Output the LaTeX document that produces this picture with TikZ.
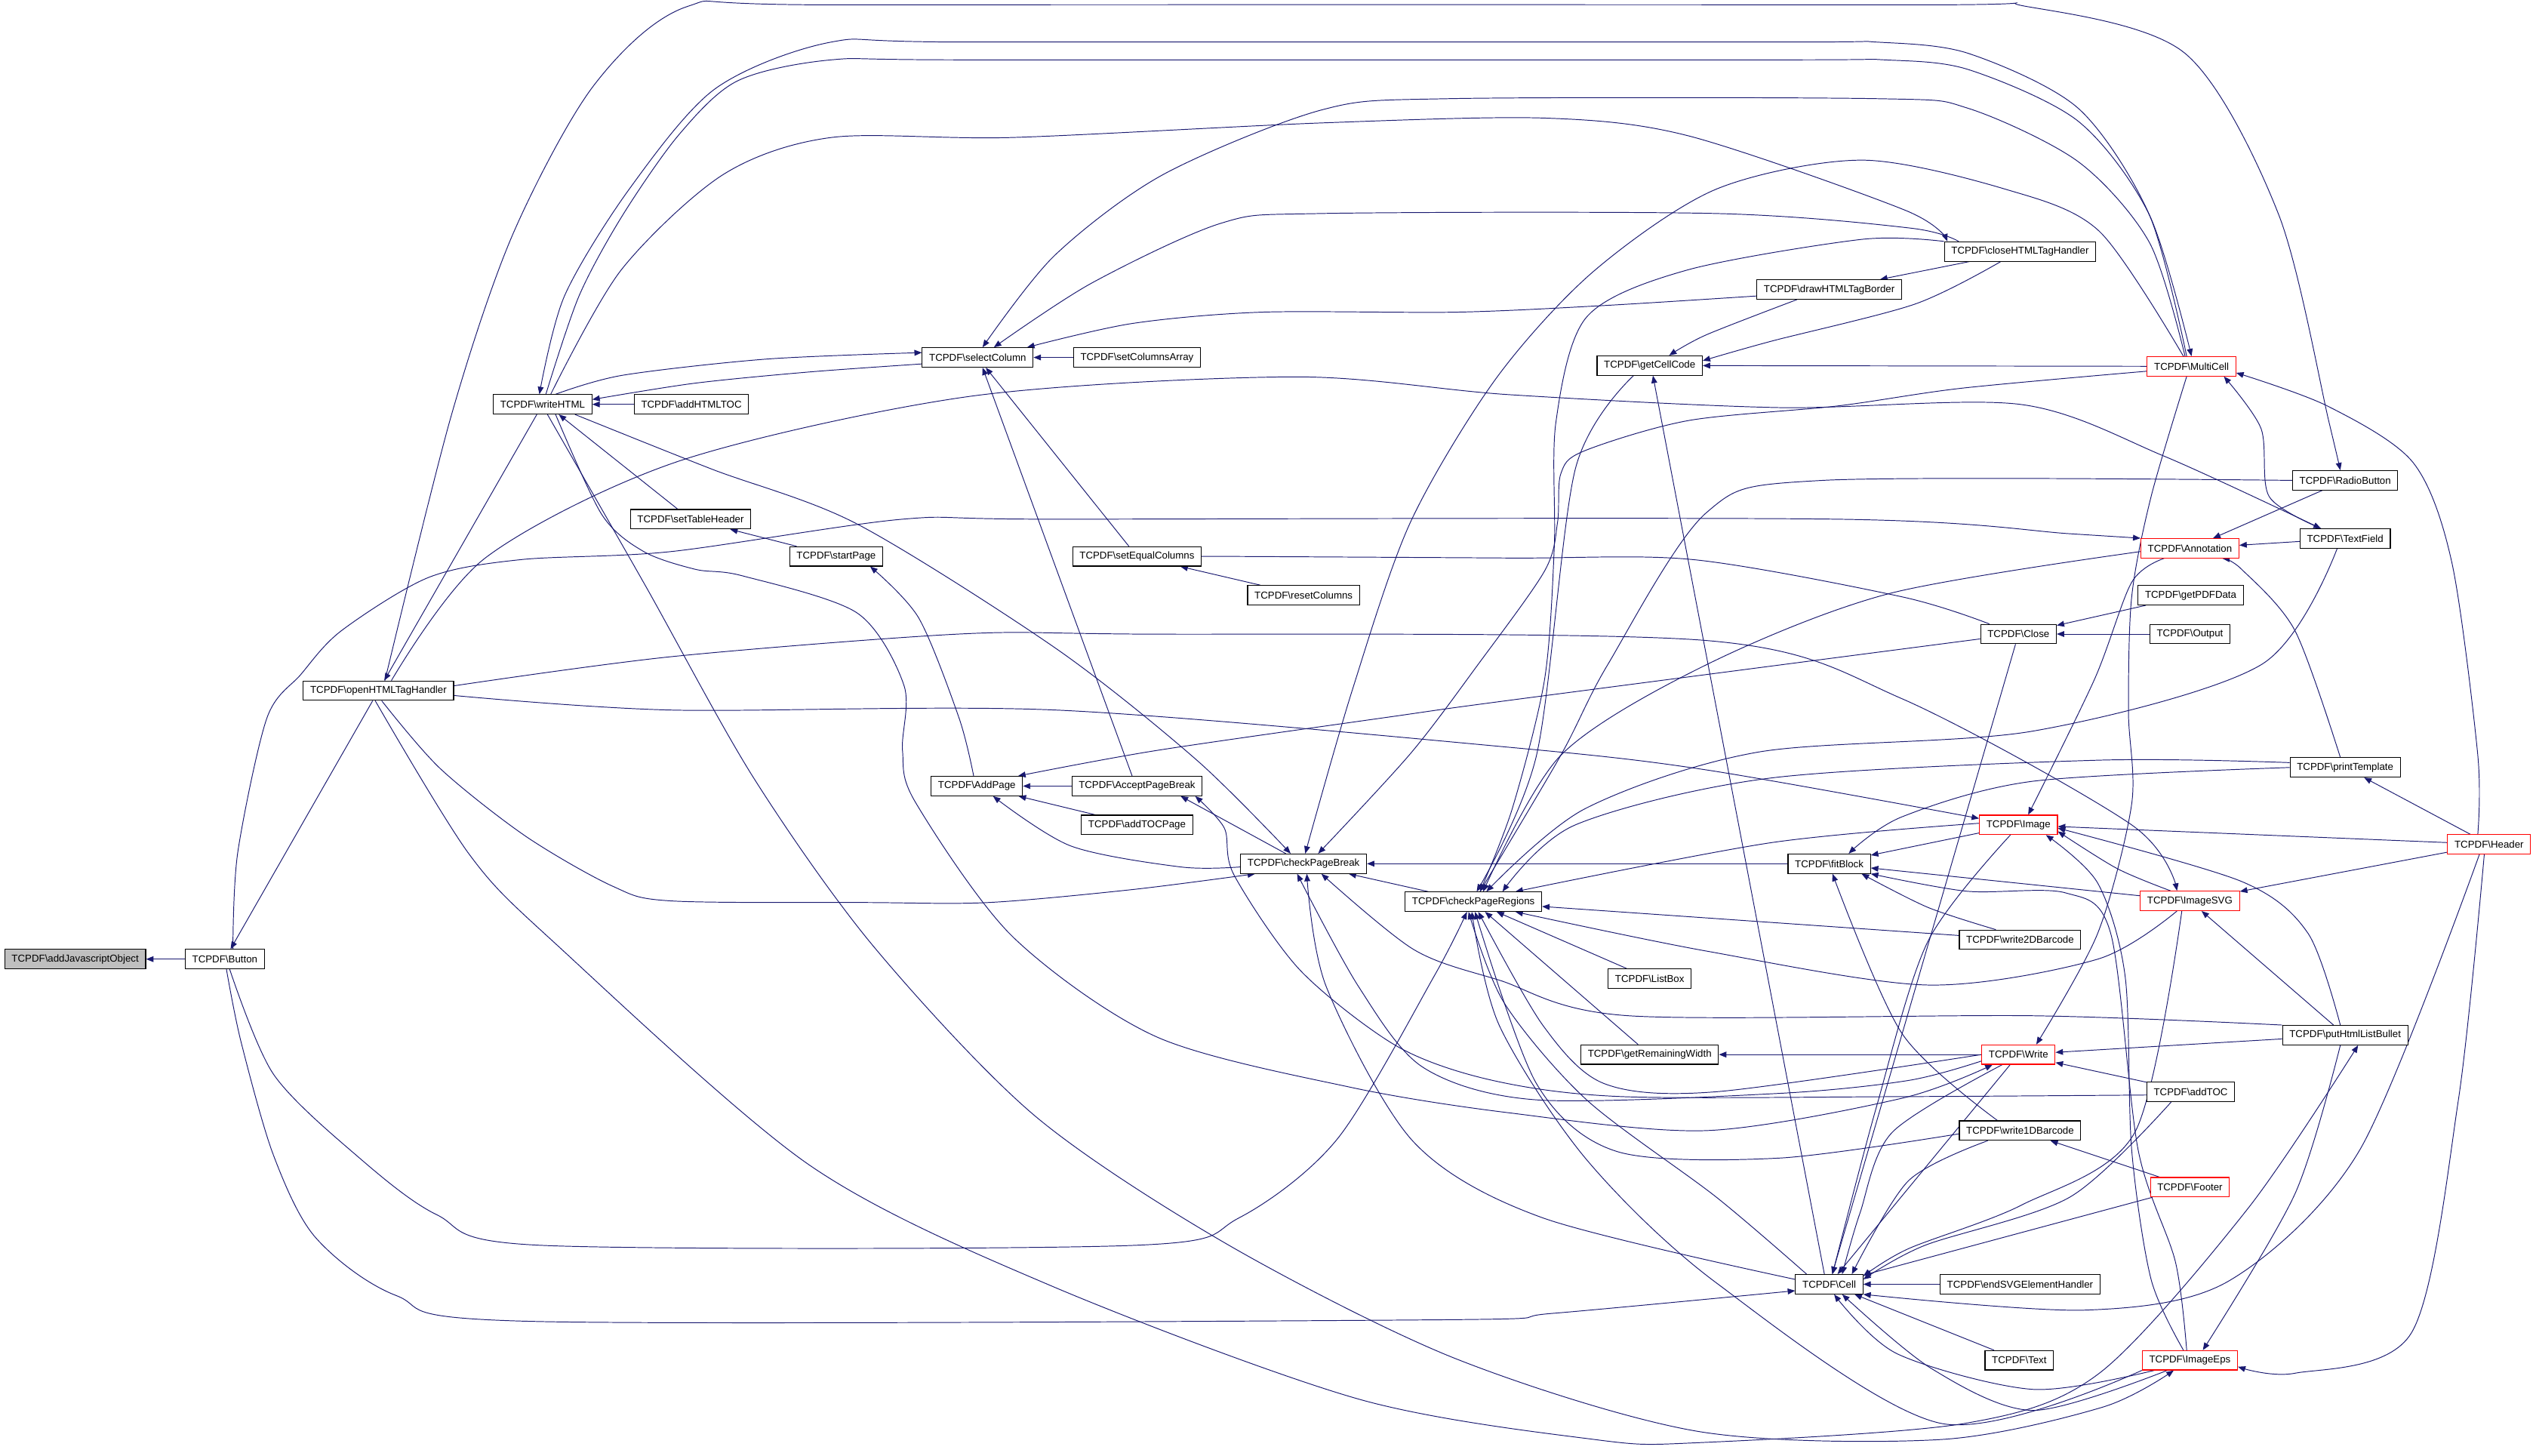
\documentclass[tikz,border=0pt]{standalone}
\usepackage{fontspec}
\setmainfont{Liberation Sans}
\usetikzlibrary{arrows.meta}
\definecolor{edgeblue}{RGB}{25,25,112}
\pgfdeclarelayer{bg}
\pgfsetlayers{bg,main}

\begin{document}
\begin{tikzpicture}[x=1pt,y=-1pt,>={Triangle[length=4.6pt,width=3.6pt]},
  fn/.style={draw=black,line width=0.5pt,fill=white,inner xsep=4.3pt,inner ysep=0pt,
    minimum height=12pt,font=\fontsize{6.2}{7}\selectfont},
  fnred/.style={fn,draw=red},
  fnroot/.style={fn,fill=black!25},
  edge/.style={->,edgeblue,line width=0.45pt}]
  \useasboundingbox (0,0) rectangle (1568,900);

  % functions
  \node[fnroot] (addJS) at (46.5,593) {TCPDF\textbackslash addJavascriptObject};
  \foreach \n/\x/\y/\lbl in {button/139/593/Button, openTag/234/427/openHTMLTagHandler,
      writeHTML/335.5/250/writeHTML, addHTMLTOC/427.5/250/addHTMLTOC,
      setTableHeader/427/321/setTableHeader, startPage/517/344/startPage,
      selectColumn/604.5/221/selectColumn, setColumnsArray/703/221/setColumnsArray,
      setEqualColumns/703/344/setEqualColumns, resetColumns/806/368/resetColumns,
      addPage/604/486/AddPage, acceptPB/703/486/AcceptPageBreak, addTOCPage/703/510/addTOCPage,
      checkPB/806/534/checkPageBreak, checkPR/911/557.5/checkPageRegions,
      getCellCode/1020/226/getCellCode, drawBorder/1131/179/drawHTMLTagBorder,
      closeTag/1249/155.5/closeHTMLTagHandler, radioButton/1450/297/RadioButton,
      textField/1450/333/TextField, getPDFData/1354.5/368/getPDFData, close/1248/392/Close,
      output/1354/392/Output, printTemplate/1450/474.5/printTemplate, fitBlock/1131/534/fitBlock,
      write2D/1249/581/write2DBarcode, listBox/1020/605/ListBox,
      getRemWidth/1020/652/getRemainingWidth, putBullet/1450/640/putHtmlListBullet,
      addTOC/1354.5/675/addTOC, write1D/1249/699/write1DBarcode, cell/1131/794/Cell,
      endSVG/1249/794/endSVGElementHandler, text/1248.5/841/Text}
    \node[fn] (\n) at (\x,\y) {TCPDF\textbackslash\lbl};
  \foreach \n/\x/\y/\lbl in {multiCell/1355/226.5/MultiCell, annotation/1354/339/Annotation,
      header/1539/522/Header, image/1248/510/Image, imageSVG/1354/557/ImageSVG,
      write/1248/652/Write, footer/1354/734/Footer, imageEps/1354/841/ImageEps}
    \node[fnred] (\n) at (\x,\y) {TCPDF\textbackslash\lbl};

  \begin{pgfonlayer}{bg}
  % short calls
  \foreach \a/\b in {button/addJS, openTag/button, writeHTML/openTag, addHTMLTOC/writeHTML,
      startPage/setTableHeader, setColumnsArray/selectColumn, setEqualColumns/selectColumn,
      resetColumns/setEqualColumns, acceptPB/addPage, addTOCPage/addPage, checkPR/checkPB,
      fitBlock/checkPB, multiCell/getCellCode, closeTag/drawBorder, radioButton/annotation,
      textField/annotation, getPDFData/close, output/close, header/printTemplate, header/image,
      header/imageSVG, putBullet/imageSVG, putBullet/write, image/fitBlock, imageSVG/fitBlock,
      write2D/checkPR, listBox/checkPR, getRemWidth/checkPR, write/getRemWidth, addTOC/write,
      footer/write1D, footer/cell, endSVG/cell, text/cell, write/cell, close/cell}
    \draw[edge] (\a) -- (\b);
  \draw[edge] ([xshift=-8pt]setTableHeader.north) -- ([xshift=10pt]writeHTML.south);
  \draw[edge] ([xshift=-3pt]acceptPB.north) -- ([xshift=3pt]selectColumn.south);
  \draw[edge] ([xshift=-11pt]checkPB.north) -- ([xshift=27pt]acceptPB.south);
  \draw[edge] ([xshift=-3pt]cell.north) -- ([xshift=2pt]getCellCode.south);
  \draw[edge] plot[smooth] coordinates {([xshift=20pt]writeHTML.south) (440,290) (530,324) (653,401) (740,470) ([xshift=-8pt]checkPB.north)};

  % long routes over the top
  \draw[edge] plot[smooth] coordinates {([xshift=4pt]openTag.north) (279,257) (317,145) (367,53) (425,4) (520,3) (1180,3) (1253,4) (1351,33) (1409,133) (1440,261) ([xshift=-3pt]radioButton.north)};
  \draw[edge] plot[smooth] coordinates {([xshift=8pt]openTag.north) (300,345) (420,285) (600,245) (800,233) (933,244) (1100,252) (1249,250) (1338,282) ([xshift=-15pt]textField.north)};
  \draw[edge] plot[smooth] coordinates {([xshift=5pt]button.north) (147,527) (165,444) (186,417) (211,390) (265,357) (322,346) (415,341) (558,321) (653,321) (1136,321) (1280,330) (annotation.north west)};
  \draw[edge] plot[smooth] coordinates {([xshift=-3pt]multiCell.north) (1329,133) (1285,67) (1217,33) (1160,26) (1100,26) (600,26) (514,26) (442,55) (389,117) (349,183) ([xshift=-2pt]writeHTML.north)};
  \draw[edge] plot[smooth] coordinates {([xshift=2pt]writeHTML.north) (358,183) (385,133) (420,83) (456,50) (514,37) (600,37) (1100,37) (1165,37) (1217,43) (1285,75) (1329,133) (multiCell.north)};
  \draw[edge] plot[smooth] coordinates {([xshift=5pt]writeHTML.north) (384,167) (447,108) (514,85) (626,85) (817,76) (955,73) (1044,84) (1178,130) ([xshift=-45pt]closeTag.north)};
  \draw[edge] plot[smooth] coordinates {([xshift=-4pt]multiCell.north) (1329,150) (1285,100) (1217,67) (1160,61) (896,61) (817,68) (719,108) (652,158) ([xshift=3pt]selectColumn.north)};
  \draw[edge] plot[smooth] coordinates {([xshift=-38pt]closeTag.north) (1181,141) (1061,132) (817,132) (755,138) (675,175) ([xshift=10pt]selectColumn.north)};
  \draw[edge] plot[smooth] coordinates {([yshift=-4pt]drawBorder.west) (990,189) (900,193) (780,193) (700,200) ([xshift=-4pt]selectColumn.north east)};
  \draw[edge] plot[smooth] coordinates {([yshift=-4pt]selectColumn.west) (500,230) (429,237) ([yshift=3pt]writeHTML.east)};
  \draw[edge] plot[smooth] coordinates {([xshift=8pt]writeHTML.north) (385,232) (474,222) ([yshift=3pt]selectColumn.west)};

  % page handling
  \draw[edge] plot[smooth] coordinates {([xshift=-2pt]addPage.north) (593,444) (568,382) ([xshift=21pt]startPage.south)};
  \draw[edge] plot[smooth] coordinates {([yshift=-2pt]checkPB.west) (730,536) (662,523) ([xshift=10pt]addPage.south)};
  \draw[edge] plot[smooth] coordinates {([yshift=-3pt]close.west) (933,433) (861,443) (715,464) ([xshift=-3pt]addPage.north east)};
  \draw[edge] plot[smooth] coordinates {([yshift=-2pt]addTOC.west) (1176,678) (1003,678) (923,668) (864,647) (804,600) (763,541) (757,512) ([xshift=36pt]acceptPB.south)};
  \draw[edge] plot[smooth] coordinates {([xshift=-18pt]close.north) (1176,369) (1047,346) (933,345) (760,344) (setEqualColumns.east)};
  \draw[edge] plot[smooth] coordinates {([xshift=2pt]openTag.south) (272,475) (325,517) (379,548) (415,557) (537,558) (611,558) (700,550) ([xshift=-30pt]checkPB.south)};
  \draw[edge] plot[smooth] coordinates {([xshift=-5pt]multiCell.north) (1298,143) (1240,117) (1151,99) (1061,117) (985,168) (925,234) (872,323) (836,427) ([xshift=1pt]checkPB.north)};
  \draw[edge] plot[smooth] coordinates {([yshift=-3pt]multiCell.west) (1213,240) (1136,251) (1044,260) (979,279) (965,293) (963,323) (955,353) (913,412) (872,466) ([xshift=9pt]checkPB.north)};

  % into checkPageRegions
  \draw[edge] plot[smooth] coordinates {([xshift=3pt]button.south) (169,664) (220,714) (270,751) (336,770) (700,770) (766,753) (827,704) (887,603) ([xshift=-4pt]checkPR.south)};
  \draw[edge] plot[smooth] coordinates {(closeTag.north west) (1151,148) (1043,167) (981,196) (962,261) (961,338) (955,420) (935,500) ([xshift=4pt]checkPR.north)};
  \draw[edge] plot[smooth] coordinates {([xshift=-10pt]getCellCode.south) (974,290) (950,467) ([xshift=2pt]checkPR.north)};
  \draw[edge] plot[smooth] coordinates {([yshift=-2pt]annotation.west) (1168,367) (1055,411) (965,467) ([xshift=6pt]checkPR.north)};
  \draw[edge] plot[smooth] coordinates {([xshift=-5pt]textField.south) (1398,411) (1257,452) (1087,465) (980,500) ([xshift=8pt]checkPR.north)};
  \draw[edge] plot[smooth] coordinates {(radioButton.west) (1127,297) (1055,317) (994,411) (965,467) ([xshift=4pt]checkPR.north)};
  \draw[edge] plot[smooth] coordinates {([yshift=3pt]printTemplate.west) (1297,470) (1095,481) (974,510) ([xshift=18pt]checkPR.north)};
  \draw[edge] plot[smooth] coordinates {([yshift=1pt]image.west) (1095,521) ([xshift=26pt]checkPR.north)};
  \draw[edge] plot[smooth] coordinates {(write.west) (1061,675) (992,670) (954,634) ([xshift=3pt]checkPR.south)};
  \draw[edge] plot[smooth] coordinates {([yshift=-2pt]write1D.west) (1100,716) (1000,712) (950,670) ([xshift=1pt]checkPR.south)};
  \draw[edge] plot[smooth] coordinates {(imageEps.south west) (1200,880) (1061,793) (981,717) (927,634) ([xshift=-1pt]checkPR.south)};
  \draw[edge] plot[smooth] coordinates {([xshift=-14pt]cell.north) (1061,740) (981,680) (930,620) ([xshift=-3pt]checkPR.south)};
  \draw[edge] plot[smooth] coordinates {([xshift=-8pt]imageSVG.south) (1297,593) (1192,609) (1055,588) ([xshift=26pt]checkPR.south)};

  % into checkPageBreak from below
  \draw[edge] plot[smooth] coordinates {(putBullet.north west) (1257,628) (1007,628) (927,606) (874,587) ([xshift=11pt]checkPB.south)};
  \draw[edge] plot[smooth] coordinates {([yshift=-4pt]write.west) (1180,668) (1100,676) (950,680) (880,660) (840,610) ([xshift=-4pt]checkPB.south)};
  \draw[edge] plot[smooth] coordinates {([yshift=3pt]cell.west) (954,753) (874,706) (820,610) ([xshift=2pt]checkPB.south)};

  % right hand side
  \draw[edge] plot[smooth] coordinates {(printTemplate.west) (1257,483) (1176,505) ([xshift=12pt]fitBlock.north)};
  \draw[edge] plot[smooth] coordinates {([xshift=-3pt]header.south) (1520,680) (1491,824) (1419,849) ([yshift=-4pt]imageEps.east)};
  \draw[edge] plot[smooth] coordinates {([xshift=-6pt]header.south) (1459,711) (1378,792) (1289,810) (cell.south east)};
  \draw[edge] plot[smooth] coordinates {([xshift=-7pt]header.north) (1532,467) (1516,348) (1492,286) (1439,251) ([yshift=-4pt]multiCell.east)};
  \draw[edge] plot[smooth] coordinates {([xshift=-15pt]textField.north) (1403,307) (1398,265) ([xshift=20pt]multiCell.south)};
  \draw[edge] plot[smooth] coordinates {([yshift=3pt]openTag.east) (415,406) (593,392) (700,392) (1055,396) (1176,432) (1318,510) ([xshift=-8pt]imageSVG.north)};
  \draw[edge] plot[smooth] coordinates {([yshift=-3pt]openTag.east) (415,439) (653,439) (933,462) (1055,476) ([yshift=4pt]image.west)};
  \draw[edge] plot[smooth] coordinates {([xshift=-3pt]printTemplate.north) (1419,390) (1386,352) ([xshift=20pt]annotation.south)};
  \draw[edge] plot[smooth] coordinates {([xshift=-16pt]annotation.south) (1318,360) (1295,420) ([xshift=6pt]image.north)};
  \draw[edge] plot[smooth] coordinates {([xshift=-3pt]multiCell.south) (1330,307) (1318,369) (1316,440) (1318,497) (1297,577) ([xshift=11pt]write.north)};
  \draw[edge] plot[smooth] coordinates {([xshift=-20pt]drawBorder.south) (1055,207) ([xshift=12pt]getCellCode.north)};
  \draw[edge] plot[smooth] coordinates {([xshift=-12pt]closeTag.south) (1184,188) (1095,211) ([yshift=3pt]getCellCode.east)};
  \draw[edge] plot[smooth] coordinates {([xshift=-5pt]image.south) (1192,582) (1160,685) ([xshift=2pt]cell.north)};
  \draw[edge] plot[smooth] coordinates {([xshift=-4pt]imageEps.north) (1330,791) (1318,711) (1314,604) (1297,546) ([xshift=17pt]image.south)};
  \draw[edge] plot[smooth] coordinates {([xshift=-2pt]imageEps.north) (1345,780) (1322,711) (1305,577) (1277,552) (1216,551) (fitBlock.south east)};
  \draw[edge] plot[smooth] coordinates {([xshift=-12pt]imageSVG.north) (1309,537) ([yshift=-4pt]image.east)};
  \draw[edge] plot[smooth] coordinates {([xshift=-3pt]putBullet.north) (1427,577) (1386,545) ([yshift=-2pt]image.east)};
  \draw[edge] plot[smooth] coordinates {([xshift=-3pt]putBullet.south) (1419,738) ([xshift=8pt]imageEps.north)};
  \draw[edge] plot[smooth] coordinates {([xshift=-15pt]write2D.north) (1192,561) ([xshift=20pt]fitBlock.south)};
  \draw[edge] plot[smooth] coordinates {([xshift=-14pt]write1D.north) (1176,639) ([xshift=2pt]fitBlock.south)};

  % into Cell
  \draw[edge] plot[smooth] coordinates {([xshift=1pt]button.south) (149,644) (169,714) (195,765) (245,801) (331,817) (887,816) (960,812) ([yshift=-4pt]cell.west)};
  \draw[edge] plot[smooth] coordinates {([xshift=-10pt]write.south) (1170,700) (1150,750) ([xshift=8pt]cell.north)};
  \draw[edge] plot[smooth] coordinates {([xshift=-20pt]write1D.south) (1180,730) ([xshift=14pt]cell.north)};
  \draw[edge] plot[smooth] coordinates {([xshift=-12pt]addTOC.south) (1280,740) (1190,770) ([yshift=3pt]cell.east)};
  \draw[edge] plot[smooth] coordinates {([xshift=-5pt]imageSVG.south) (1320,700) (1250,745) (1180,772) ([yshift=5pt]cell.east)};
  \draw[edge] plot[smooth] coordinates {([xshift=-22pt]imageEps.south) (1257,859) (1173,837) ([xshift=3pt]cell.south)};
  \draw[edge] plot[smooth] coordinates {([xshift=-14pt]imageEps.south) (1257,872) (1194,846) ([xshift=8pt]cell.south)};

  % long routes along the bottom
  \draw[edge] plot[smooth] coordinates {([xshift=3pt]writeHTML.south) (399,362) (466,481) (540,585) (640,690) (760,770) (900,840) (1050,885) (1200,890) (1300,870) ([xshift=-10pt]imageEps.south)};
  \draw[edge] plot[smooth] coordinates {([xshift=-2pt]openTag.south) (290,528) (343,583) (500,720) (650,795) (840,865) (986,890) (1049,892) (1215,880) (1298,849) (1390,747) ([xshift=8pt]putBullet.south)};
  \draw[edge] plot[smooth] coordinates {([xshift=8pt]writeHTML.south) (372,318) (398,341) (430,352) (459,356) (530,379) (559,424) (558,464) (566,496) (626,579) (715,641) (834,672) (933,688) (1055,699) (1176,679) ([xshift=-16pt]write.south)};
  \end{pgfonlayer}
\end{tikzpicture}
\end{document}
